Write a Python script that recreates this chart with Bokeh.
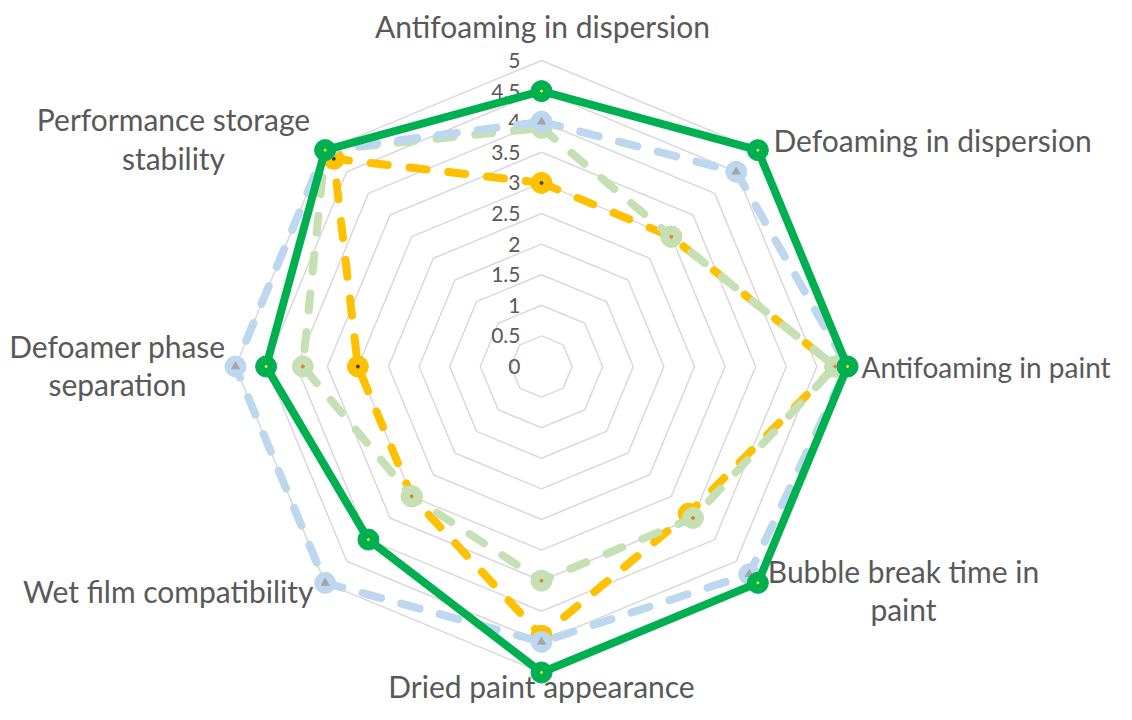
import math
from bokeh.plotting import figure
from bokeh.models import Range1d
from bokeh.core.properties import value
from bokeh.embed import file_html
from bokeh.resources import INLINE

# ---------------- data ----------------
categories = ["Antifoaming in dispersion", "Defoaming in dispersion", "Antifoaming in paint",
              "Bubble break time in paint", "Dried paint appearance", "Wet film compatibility",
              "Defoamer phase separation", "Performance storage stability"]
series_green = [4.5, 5, 5, 5, 5, 4, 4.5, 5]
series_blue = [4, 4.5, 5, 4.8, 4.5, 5, 5, 5]
series_lightgreen = [3.9, 3, 4.8, 3.5, 3.5, 3, 3.9, 5]
series_orange = [3, 3, 4.8, 3.4, 4.4, 3, 3, 4.8]
tick_values = [0, 0.5, 1, 1.5, 2, 2.5, 3, 3.5, 4, 4.5, 5]
tick_labels = ["0", "0.5", "1", "1.5", "2", "2.5", "3", "3.5", "4", "4.5", "5"]

# ---------------- layout ----------------
W, H = 1116, 704
S = 61.2           # px per unit
CX, CY = 541, 366  # centre in canvas px
FONT = "Lato"
TXT = "#595959"
BASE_SHIFT = 12    # renderer places alphabetic baseline lower than nominal

p = figure(width=W, height=H, output_backend="svg", toolbar_location=None,
           x_range=Range1d(-CX / S, (W - CX) / S), y_range=Range1d(-(H - CY) / S, CY / S),
           min_border=0)
p.axis.visible = False
p.grid.visible = False
p.outline_line_color = None
p.background_fill_color = "white"
p.border_fill_color = "white"

n = len(categories)
angles = [math.pi / 2 - i * 2 * math.pi / n for i in range(n)]


def polar(vals):
    xs = [v * math.cos(a) for v, a in zip(vals, angles)]
    ys = [v * math.sin(a) for v, a in zip(vals, angles)]
    return xs, ys


# grid rings
ring_xs, ring_ys = [], []
for t in tick_values[1:]:
    xs, ys = polar([t] * n)
    ring_xs.append(xs + [xs[0]])
    ring_ys.append(ys + [ys[0]])
p.multi_line(ring_xs, ring_ys, line_color="#D9D9D9", line_width=1.5)

# tick labels
p.text(x=[-21 / S] * len(tick_values), y=tick_values, text=tick_labels,
       text_align="right", text_baseline="middle", text_color=TXT,
       text_font=value(FONT), text_font_size="21px")

# series (drawn bottom to top)
styles = [
    (series_orange, "#FFC000", "17 22", "#404040", "circle", 3),
    (series_lightgreen, "#C5E0B4", "17 22", "#ED7D31", "circle", 3),
    (series_blue, "#BDD7EE", "19 21", "#A5A5A5", "triangle", 8),
    (series_green, "#00B050", None, "#FFFF00", "circle", 2),
]
for vals, col, dash, inner_col, inner_marker, inner_size in styles:
    xs, ys = polar(vals)
    kw = dict(line_color=col, line_width=8, line_cap="round", line_join="round")
    if dash:
        kw["line_dash"] = dash
    p.line(xs + [xs[0]], ys + [ys[0]], **kw)
    p.scatter(xs, ys, size=21, marker="circle", fill_color=col, line_color=col)
    p.scatter(xs, ys, size=inner_size, marker=inner_marker, fill_color=inner_col,
              line_color=inner_col)


def to_data(ix, iy):
    return (ix - CX) / S, (CY - (iy - BASE_SHIFT)) / S


# category labels: (line text, px x, px baseline y, align, font size)
label_lines = [
    ("Antifoaming in dispersion", 542, 37, "center", 30),
    ("Defoaming in dispersion", 773, 151, "left", 30),
    ("Antifoaming in paint", 861, 378, "left", 28),
    ("Bubble break time in", 903, 582, "center", 30),
    ("paint", 903, 620, "center", 30),
    ("Dried paint appearance", 541, 697, "center", 30),
    ("Wet film compatibility", 313, 602, "right", 30),
    ("Defoamer phase", 117, 357, "center", 30),
    ("separation", 117, 395, "center", 30),
    ("Performance storage", 173, 130, "center", 30),
    ("stability", 173, 169, "center", 30),
]
for txt, ix, iy, align, fs in label_lines:
    lx, ly = to_data(ix, iy)
    p.text(x=[lx], y=[ly], text=[txt], text_align=align,
           text_baseline="alphabetic", text_color=TXT, text_font=value(FONT),
           text_font_size=f"{fs}px")

open("out.html", "w").write(file_html(p, INLINE))
